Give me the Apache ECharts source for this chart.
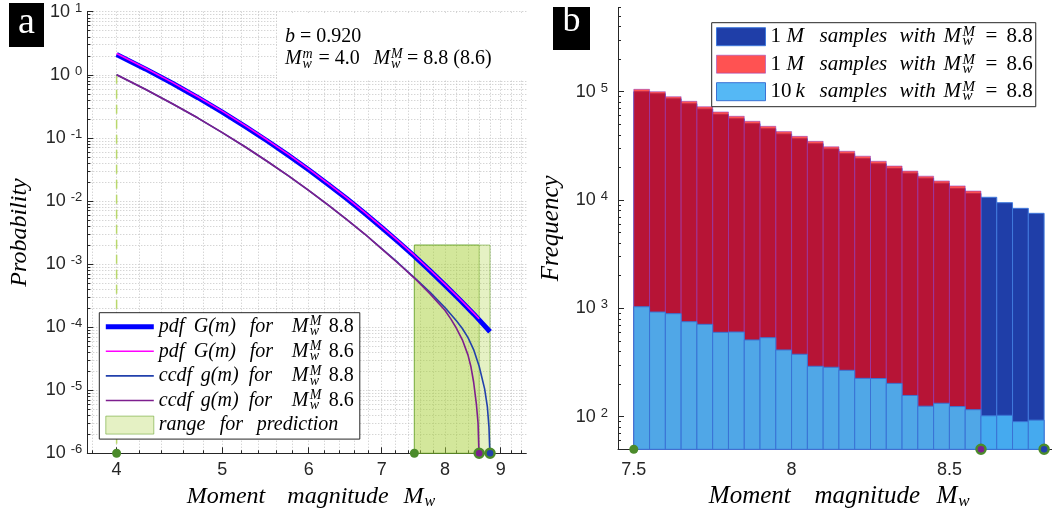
<!DOCTYPE html>
<html>
<head>
<meta charset="utf-8">
<script src="https://cdn.jsdelivr.net/npm/echarts@6/dist/echarts.min.js"></script>
<style>
  html, body { margin: 0; padding: 0; background: #ffffff; }
  #chart { width: 1052px; height: 515px; }
</style>
</head>
<body>
<div id="chart"></div>
<script>
// ---------- Panel a: Gutenberg–Richter pdf / ccdf curves ----------
const pdf88Mag = [4.0, 4.25, 4.5, 4.75, 5.0, 5.25, 5.5, 5.75, 6.0, 6.25, 6.5, 6.75, 7.0, 7.25, 7.5, 7.75, 8.0, 8.25, 8.5, 8.65, 8.8];
const pdf88Val = [2.1, 1.24, 0.733, 0.433, 0.256, 0.151, 0.0893, 0.0528, 0.0312, 0.0184, 0.0109, 0.00644, 0.0038, 0.00225, 0.00133, 0.000785, 0.000464, 0.000274, 0.000162, 0.000117, 0.0000845];

const pdf86Mag = [4.0, 4.25, 4.5, 4.75, 5.0, 5.25, 5.5, 5.75, 6.0, 6.25, 6.5, 6.75, 7.0, 7.25, 7.5, 7.75, 8.0, 8.25, 8.5, 8.6];
const pdf86Val = [2.17, 1.28, 0.759, 0.448, 0.265, 0.156, 0.0924, 0.0546, 0.0323, 0.019, 0.0113, 0.00667, 0.00393, 0.00233, 0.00138, 0.000812, 0.00048, 0.000284, 0.000168, 0.000136];

const ccdf88Mag = [4.0, 4.25, 4.5, 4.75, 5.0, 5.25, 5.5, 5.75, 6.0, 6.25, 6.5, 6.75, 7.0, 7.25, 7.5, 7.75, 8.0, 8.2, 8.3, 8.4, 8.5, 8.6, 8.7, 8.75, 8.78, 8.795, 8.8];
const ccdf88Val = [1.0, 0.59, 0.348, 0.206, 0.121, 0.0716, 0.0422, 0.0249, 0.0147, 0.00868, 0.00512, 0.00302, 0.00176, 0.00104, 0.00061, 0.00036, 0.000205, 0.000125, 0.000095, 0.000068, 0.000044, 0.000024, 0.0000105, 0.0000055, 0.0000026, 0.0000011, 0.0000001];

const ccdf86Mag = [4.0, 4.25, 4.5, 4.75, 5.0, 5.25, 5.5, 5.75, 6.0, 6.25, 6.5, 6.75, 7.0, 7.25, 7.5, 7.75, 8.0, 8.1, 8.2, 8.3, 8.4, 8.45, 8.5, 8.55, 8.58, 8.595, 8.6];
const ccdf86Val = [1.0, 0.59, 0.348, 0.206, 0.121, 0.0716, 0.0422, 0.0249, 0.0147, 0.00868, 0.00512, 0.00302, 0.00174, 0.00102, 0.0006, 0.00034, 0.000185, 0.000135, 0.000095, 0.000063, 0.000036, 0.000024, 0.0000135, 0.000006, 0.000003, 0.0000011, 0.0000001];

const magMin = 4.0;                 // M_w^m
const rangeLow = [7.5, 7.5];        // prediction window start
const rangeHigh = [8.6, 8.8];       // prediction window end (M_w^M)
const rangeTop = [0.002, 0.002];
const markersA = [4.0, 7.5];
const markerA86 = [8.6];
const markerA88 = [8.8];

const xTicksA = [4, 5, 6, 7, 8, 9];
const xMinorA = [3.8, 4.0, 4.2, 4.4, 4.6, 4.8, 5.0, 5.2, 5.4, 5.6, 5.8, 6.0, 6.2, 6.4, 6.6, 6.8, 7.0, 7.2, 7.4, 7.6, 7.8, 8.0, 8.2, 8.4, 8.6, 8.8, 9.0, 9.2, 9.4];
const yTicksA = [1e-6, 1e-5, 1e-4, 1e-3, 1e-2, 1e-1, 1, 10];
const yMinA = 1e-6, yMaxA = 10;
const xMinA = 3.76, xMaxA = 9.5;

// ---------- Panel b: histograms of synthetic catalogues ----------
const binStart = [7.50, 7.55, 7.60, 7.65, 7.70, 7.75, 7.80, 7.85, 7.90, 7.95, 8.00, 8.05, 8.10, 8.15, 8.20, 8.25, 8.30, 8.35, 8.40, 8.45, 8.50, 8.55, 8.60, 8.65, 8.70, 8.75];
const binWidth = 0.05;
const count88M = [100000, 95900, 86100, 77400, 69200, 61800, 56300, 50700, 45500, 40700, 36800, 33100, 29600, 26800, 24100, 21600, 19600, 17700, 15900, 14300, 12800, 11500, 10600, 9450, 8380, 7540];
const count86M = [105200, 100000, 89900, 81500, 72700, 65000, 59300, 53300, 47900, 42800, 38700, 34800, 31000, 28200, 25400, 22800, 20600, 18500, 16600, 15000, 13500, 12100];
const count88k = [1035, 925, 893, 753, 712, 601, 605, 511, 536, 413, 377, 292, 286, 268, 226, 225, 203, 157, 125, 133, 124, 116, 102, 103, 90, 93];
const markersB = [7.5];
const markerB86 = [8.6];
const markerB88 = [8.8];

const xTicksB = [7.5, 8, 8.5];
const yTicksB = [100, 1000, 10000, 100000];
const yMinB = 50, yMaxB = 600000;
const xMinB = 7.45, xMaxB = 8.825;

// ---------- helpers ----------
function decadeTicks(lo, hi) {
  const out = [];
  for (let e = -8; e <= 8; e++) {
    for (let k = 1; k <= 9; k++) {
      const v = Number((k * Math.pow(10, e)).toPrecision(6));
      if (v >= lo * 0.9999 && v <= hi * 1.0001) out.push(v);
    }
  }
  return out;
}
const pairs = (xs, ys) => xs.map((x, i) => [x, ys[i]]);

const SERIF = 'Liberation Serif';
const SANS = 'Liberation Sans';
const AX = '#262626';

const expLabelRich = {
  b: { fontFamily: SANS, fontSize: 18, color: AX, lineHeight: 20 },
  e: { fontFamily: SANS, fontSize: 13, color: AX, verticalAlign: 'top', lineHeight: 13, padding: [0, 0, 0, 5] }
};
const expFormatter = v => '{b|10}{e|' + Math.round(Math.log10(v)) + '}';

const it = (size, extra) => Object.assign({ fontFamily: SERIF, fontStyle: 'italic', fontSize: size, color: '#000' }, extra || {});
const rm = (size, extra) => Object.assign({ fontFamily: SERIF, fontSize: size, color: '#000' }, extra || {});

// legend text of panel a
const legendARich = {
  p1: it(20, { width: 35, lineHeight: 24 }),
  p2: it(20, { width: 56, lineHeight: 24 }),
  p3: it(20, { width: 42, lineHeight: 24 }),
  c1: it(20, { width: 42, lineHeight: 24 }),
  c2: it(20, { width: 48, lineHeight: 24 }),
  c3: it(20, { width: 43, lineHeight: 24 }),
  r1: it(20, { width: 61, lineHeight: 24 }),
  r2: it(20, { width: 37, lineHeight: 24 }),
  r3: it(20, { lineHeight: 24 }),
  mm: it(20, { width: 18, lineHeight: 24 }),
  sb: it(14, { width: 0, lineHeight: 12, verticalAlign: 'bottom' }),
  sp: it(14, { width: 19, lineHeight: 12, verticalAlign: 'top' }),
  nm: rm(20, { lineHeight: 24 })
};
const legendAText = {
  pdf88: '{p1|pdf}{p2|G(m)}{p3|for}{mm|M}{sb|w}{sp|M}{nm|8.8}',
  pdf86: '{p1|pdf}{p2|G(m)}{p3|for}{mm|M}{sb|w}{sp|M}{nm|8.6}',
  ccdf88: '{c1|ccdf}{c2|g(m)}{c3|for}{mm|M}{sb|w}{sp|M}{nm|8.8}',
  ccdf86: '{c1|ccdf}{c2|g(m)}{c3|for}{mm|M}{sb|w}{sp|M}{nm|8.6}',
  range: '{r1|range}{r2|for}{r3|prediction}'
};

// legend text of panel b
const legendBRich = {
  n1: rm(21, { width: 16, lineHeight: 24 }),
  n10: rm(21, { width: 25, lineHeight: 24 }),
  mM: it(21, { width: 33, lineHeight: 24 }),
  kk: it(21, { width: 24, lineHeight: 24 }),
  sm: it(21, { width: 80, lineHeight: 24 }),
  wi: it(21, { width: 44, lineHeight: 24 }),
  M2: it(21, { width: 19, lineHeight: 24 }),
  sb: it(15, { width: 0, lineHeight: 12, verticalAlign: 'bottom' }),
  sp: it(15, { width: 23, lineHeight: 12, verticalAlign: 'top' }),
  eq: rm(21, { width: 21, lineHeight: 24 }),
  nm: rm(21, { lineHeight: 24 })
};
const legendBText = {
  m88: '{n1|1}{mM|M}{sm|samples}{wi|with}{M2|M}{sb|w}{sp|M}{eq|=}{nm|8.8}',
  m86: '{n1|1}{mM|M}{sm|samples}{wi|with}{M2|M}{sb|w}{sp|M}{eq|=}{nm|8.6}',
  k88: '{n10|10}{kk|k}{sm|samples}{wi|with}{M2|M}{sb|w}{sp|M}{eq|=}{nm|8.8}'
};

// colours
const C_PDF88 = '#0000ff', C_PDF86 = '#ff00ff', C_CCDF88 = '#2241ac', C_CCDF86 = '#7e1f8e';
const C_GREEN = '#4b8b2b';
const RANGE_FILL = 'rgba(170,210,60,0.30)', RANGE_EDGE = 'rgba(100,160,40,0.55)';
const BAR88_FILL = '#1f3ea8', BAR88_EDGE = '#4079dc';
const BAR86_FILL = 'rgba(255,0,0,0.68)', BAR86_EDGE = 'rgba(140,60,200,0.5)';
const BARK_FILL = 'rgba(72,179,244,0.93)', BARK_EDGE = '#3a72d4';
const NO_SYMBOL = { color: 'rgba(0,0,0,0)', borderWidth: 0, opacity: 0 };

function rangeRect(params, api) {
  const tl = api.coord([api.value(0), api.value(2)]);
  const br = api.coord([api.value(1), yMinA]);
  return {
    type: 'rect',
    shape: { x: tl[0], y: tl[1], width: br[0] - tl[0], height: br[1] - tl[1] },
    style: { fill: RANGE_FILL, stroke: RANGE_EDGE, lineWidth: 1 }
  };
}
function barRenderer(fill, stroke) {
  return function (params, api) {
    const x0 = api.value(0);
    const tl = api.coord([x0, api.value(1)]);
    const br = api.coord([x0 + binWidth, yMinB]);
    return {
      type: 'rect',
      shape: { x: tl[0], y: tl[1], width: br[0] - tl[0], height: br[1] - tl[1] },
      style: { fill: fill, stroke: stroke, lineWidth: 1 }
    };
  };
}

const ringMarker = (data, inner, xi, yi, yv) => ({
  type: 'scatter', xAxisIndex: xi, yAxisIndex: yi, clip: false, silent: true, z: 10,
  symbol: 'circle', symbolSize: 9,
  itemStyle: { color: inner, borderColor: C_GREEN, borderWidth: inner === C_GREEN ? 0 : 2.5, opacity: 1 },
  data: data.map(m => [m, yv])
});

const curveSeries = (name, xs, ys, color, width) => ({
  type: 'line', name: name, xAxisIndex: 0, yAxisIndex: 0,
  data: pairs(xs, ys), symbol: 'none', smooth: false,
  lineStyle: { color: color, width: width, join: 'round', cap: 'butt' }, itemStyle: { color: color }, silent: true
});

const axisLineStyle = { show: true, lineStyle: { color: AX, width: 1 } };

const option = {
  animation: false,
  backgroundColor: '#ffffff',
  grid: [
    { left: 87.3, top: 11.7, width: 439, height: 441.6, outerBoundsMode: 'none' },
    { left: 618, top: 7.4, width: 434, height: 441.9, outerBoundsMode: 'none' }
  ],
  xAxis: [
    { // panel a, major ticks and labels
      gridIndex: 0, type: 'log', min: xMinA, max: xMaxA, position: 'bottom',
      axisLine: axisLineStyle,
      axisTick: { show: true, inside: true, length: 6, customValues: xTicksA, lineStyle: { color: AX } },
      axisLabel: { customValues: xTicksA, margin: 8, fontFamily: SANS, fontSize: 18, color: AX, formatter: v => String(Math.round(v)) },
      splitLine: { show: false }, minorTick: { show: false },
      name: '{w1|Moment}{w2|magnitude}{w3|M}{s|w}', nameLocation: 'middle', nameGap: 30,
      nameTextStyle: { rich: {
        w1: it(24, { width: 95, lineHeight: 26 }), w2: it(24, { width: 129, lineHeight: 26 }),
        w3: it(24, { width: 22, lineHeight: 26 }), s: it(16, { lineHeight: 14, verticalAlign: 'bottom' })
      } }
    },
    { // panel a, minor ticks and grid
      gridIndex: 0, type: 'log', min: xMinA, max: xMaxA, position: 'bottom',
      axisLine: { show: false },
      axisTick: { show: true, inside: true, length: 3, customValues: xMinorA, lineStyle: { color: AX } },
      axisLabel: { show: false },
      splitLine: { show: true, lineStyle: { color: '#c4c4c4', width: 1, type: [1, 2] } }
    },
    { // panel b
      gridIndex: 1, type: 'value', min: xMinB, max: xMaxB, position: 'bottom',
      axisLine: axisLineStyle,
      axisTick: { show: false },
      axisLabel: { customValues: xTicksB, margin: 12, fontFamily: SANS, fontSize: 18, color: AX, formatter: v => String(v) },
      splitLine: { show: false },
      name: '{w1|Moment}{w2|magnitude}{w3|M}{s|w}', nameLocation: 'middle', nameGap: 30,
      nameTextStyle: { rich: {
        w1: it(25, { width: 99, lineHeight: 26 }), w2: it(25, { width: 136, lineHeight: 26 }),
        w3: it(25, { width: 23, lineHeight: 26 }), s: it(17, { lineHeight: 14, verticalAlign: 'bottom' })
      } }
    }
  ],
  yAxis: [
    { // panel a, major
      gridIndex: 0, type: 'log', min: yMinA, max: yMaxA, position: 'left',
      axisLine: axisLineStyle,
      axisTick: { show: true, inside: true, length: 6, customValues: yTicksA, lineStyle: { color: AX } },
      axisLabel: { customValues: yTicksA, margin: 5, formatter: expFormatter, rich: expLabelRich },
      splitLine: { show: false },
      name: 'Probability', nameLocation: 'middle', nameGap: 56, nameRotate: 90,
      nameTextStyle: it(24)
    },
    { // panel a, minor ticks and grid
      gridIndex: 0, type: 'log', min: yMinA, max: yMaxA, position: 'left',
      axisLine: { show: false },
      axisTick: { show: true, inside: true, length: 3, customValues: decadeTicks(yMinA, yMaxA), lineStyle: { color: AX } },
      axisLabel: { show: false },
      splitLine: { show: true, lineStyle: { color: '#c4c4c4', width: 1, type: [1, 2] } }
    },
    { // panel b, major
      gridIndex: 1, type: 'log', min: yMinB, max: yMaxB, position: 'left',
      axisLine: axisLineStyle,
      axisTick: { show: true, inside: true, length: 6, customValues: yTicksB, lineStyle: { color: AX } },
      axisLabel: { customValues: yTicksB, margin: 10, formatter: expFormatter, rich: expLabelRich },
      splitLine: { show: false },
      name: 'Frequency', nameLocation: 'middle', nameGap: 54, nameRotate: 90,
      nameTextStyle: it(25)
    },
    { // panel b, minor ticks
      gridIndex: 1, type: 'log', min: yMinB, max: yMaxB, position: 'left',
      axisLine: { show: false },
      axisTick: { show: true, inside: true, length: 3, customValues: decadeTicks(yMinB, yMaxB), lineStyle: { color: AX } },
      axisLabel: { show: false },
      splitLine: { show: false }
    }
  ],
  legend: [
    {
      orient: 'vertical', left: 99.3, top: 312.7,
      padding: [2, 6, 2, 4], itemGap: 0.6, itemWidth: 48, itemHeight: 18,
      backgroundColor: '#ffffff', borderColor: AX, borderWidth: 1,
      selectedMode: false,
      textStyle: { fontFamily: SERIF, fontSize: 20, lineHeight: 24, rich: legendARich },
      formatter: name => legendAText[name],
      data: [
        { name: 'pdf88', lineStyle: { width: 5, color: C_PDF88 }, itemStyle: NO_SYMBOL },
        { name: 'pdf86', lineStyle: { width: 1.6, color: C_PDF86 }, itemStyle: NO_SYMBOL },
        { name: 'ccdf88', lineStyle: { width: 1.6, color: C_CCDF88 }, itemStyle: NO_SYMBOL },
        { name: 'ccdf86', lineStyle: { width: 1.6, color: C_CCDF86 }, itemStyle: NO_SYMBOL },
        { name: 'range', icon: 'rect', itemStyle: { color: RANGE_FILL, borderColor: RANGE_EDGE, borderWidth: 1 } }
      ]
    },
    {
      orient: 'vertical', left: 711.7, top: 22.7,
      padding: [2, 3, 3, 4.3], itemGap: 3.5, itemWidth: 49, itemHeight: 18,
      backgroundColor: '#ffffff', borderColor: AX, borderWidth: 1,
      selectedMode: false, icon: 'rect',
      textStyle: { fontFamily: SERIF, fontSize: 21, lineHeight: 24, rich: legendBRich },
      formatter: name => legendBText[name],
      data: [
        { name: 'm88', itemStyle: { color: BAR88_FILL, borderColor: BAR88_EDGE, borderWidth: 1 } },
        { name: 'm86', itemStyle: { color: BAR86_FILL, borderColor: BAR86_EDGE, borderWidth: 1 } },
        { name: 'k88', itemStyle: { color: BARK_FILL, borderColor: BARK_EDGE, borderWidth: 1 } }
      ]
    }
  ],
  series: [
    // ----- panel a -----
    {
      type: 'custom', name: 'range', xAxisIndex: 0, yAxisIndex: 0, silent: true,
      renderItem: rangeRect,
      itemStyle: { color: RANGE_FILL, borderColor: RANGE_EDGE, borderWidth: 1 },
      encode: { x: [0, 1], y: 2 },
      data: rangeLow.map((lo, i) => [lo, rangeHigh[i], rangeTop[i]])
    },
    {
      type: 'line', name: 'minMag', xAxisIndex: 0, yAxisIndex: 0, symbol: 'none', silent: true,
      lineStyle: { color: '#b9d86c', width: 1.5, type: [9, 6] },
      data: [[magMin, 1], [magMin, yMinA]]
    },
    curveSeries('ccdf88', ccdf88Mag, ccdf88Val, C_CCDF88, 1.6),
    curveSeries('ccdf86', ccdf86Mag, ccdf86Val, C_CCDF86, 1.6),
    curveSeries('pdf88', pdf88Mag, pdf88Val, C_PDF88, 5),
    curveSeries('pdf86', pdf86Mag, pdf86Val, C_PDF86, 1.6),
    ringMarker(markersA, C_GREEN, 0, 0, yMinA),
    ringMarker(markerA86, C_CCDF86, 0, 0, yMinA),
    ringMarker(markerA88, C_CCDF88, 0, 0, yMinA),
    // ----- panel b -----
    {
      type: 'custom', name: 'm88', xAxisIndex: 2, yAxisIndex: 2, silent: true,
      renderItem: barRenderer(BAR88_FILL, BAR88_EDGE),
      itemStyle: { color: BAR88_FILL },
      data: count88M.map((v, i) => [binStart[i], v])
    },
    {
      type: 'custom', name: 'm86', xAxisIndex: 2, yAxisIndex: 2, silent: true,
      renderItem: barRenderer(BAR86_FILL, BAR86_EDGE),
      itemStyle: { color: BAR86_FILL },
      data: count86M.map((v, i) => [binStart[i], v])
    },
    {
      type: 'custom', name: 'k88', xAxisIndex: 2, yAxisIndex: 2, silent: true,
      renderItem: barRenderer(BARK_FILL, BARK_EDGE),
      itemStyle: { color: BARK_FILL },
      data: count88k.map((v, i) => [binStart[i], v])
    },
    ringMarker(markersB, C_GREEN, 2, 2, yMinB),
    ringMarker(markerB86, C_CCDF86, 2, 2, yMinB),
    ringMarker(markerB88, C_CCDF88, 2, 2, yMinB)
  ],
  graphic: [
    // parameter box of panel a
    { type: 'rect', shape: { x: 277, y: 13, width: 252, height: 67 }, style: { fill: '#ffffff' }, z: 5 },
    {
      type: 'text', x: 285, y: 36.5, z: 6,
      style: {
        text: '{i|b}{n| = 0.920}', verticalAlign: 'middle',
        rich: { i: it(20, { lineHeight: 24 }), n: rm(20, { lineHeight: 24 }) }
      }
    },
    {
      type: 'text', x: 285, y: 59, z: 6,
      style: {
        text: '{m1|M}{sb|w}{sp1|m}{e1|= 4.0}{m2|M}{sb|w}{sp2|M}{n|= 8.8 (8.6)}', verticalAlign: 'middle',
        rich: {
          m1: it(20, { width: 17.5, lineHeight: 24 }),
          m2: it(20, { width: 17.5, lineHeight: 24 }),
          sb: it(14, { width: 0, lineHeight: 12, verticalAlign: 'bottom' }),
          sp1: it(14, { width: 16, lineHeight: 12, verticalAlign: 'top' }),
          sp2: it(14, { width: 16, lineHeight: 12, verticalAlign: 'top' }),
          e1: rm(20, { width: 55, lineHeight: 24 }),
          n: rm(20, { lineHeight: 24 })
        }
      }
    },
    // panel letters
    { type: 'rect', shape: { x: 9, y: 3, width: 35, height: 44 }, style: { fill: '#000000' }, z: 20 },
    { type: 'text', x: 26.5, y: 42, z: 21, style: { text: 'a', fill: '#ffffff', font: '38px "Liberation Serif"', align: 'center', verticalAlign: 'bottom' } },
    { type: 'rect', shape: { x: 553, y: 7, width: 37, height: 43 }, style: { fill: '#000000' }, z: 20 },
    { type: 'text', x: 571.5, y: 40, z: 21, style: { text: 'b', fill: '#ffffff', font: '36px "Liberation Serif"', align: 'center', verticalAlign: 'bottom' } }
  ]
};

const chart = echarts.init(document.getElementById('chart'), null, { renderer: 'canvas' });
chart.setOption(option);
</script>
</body>
</html>
